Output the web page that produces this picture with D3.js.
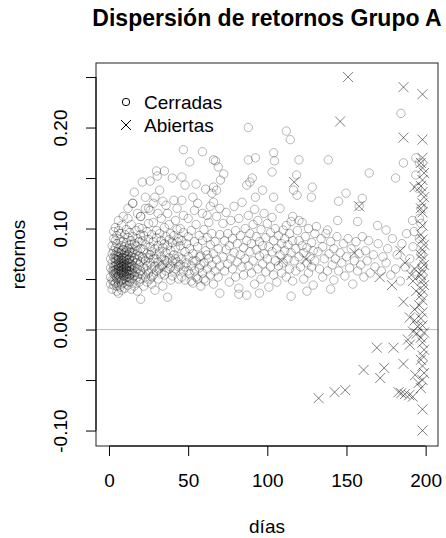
<!DOCTYPE html>
<html>
<head>
<meta charset="utf-8">
<script src="https://cdn.jsdelivr.net/npm/d3@7"></script>
<style>
  body { margin: 0; background: #fff; }
  svg { display: block; font-family: "Liberation Sans", Arial, sans-serif; }
</style>
</head>
<body>
<div id="chart"></div>
<script>
// Data -----------------------------------------------------------------------------------------------------------
const xTicks = [0, 50, 100, 150, 200];
const yTicks = [-0.10, -0.05, 0.00, 0.05, 0.10, 0.15, 0.20, 0.25];
const yTickLabels = ["-0.10", "", "0.00", "", "0.10", "", "0.20", ""];

// [dias, retorno] operaciones cerradas
const cerradas = [
  [1,0.052],[1,0.061],[1,0.070],[1,0.045],[2,0.058],[2,0.066],[2,0.049],[2,0.075],[2,0.083],[2,0.040],
  [3,0.055],[3,0.062],[3,0.071],[3,0.048],[3,0.090],[3,0.078],[3,0.044],[3,0.097],
  [4,0.053],[4,0.059],[4,0.067],[4,0.074],[4,0.081],[4,0.046],[4,0.101],[4,0.088],
  [5,0.050],[5,0.057],[5,0.064],[5,0.069],[5,0.077],[5,0.043],[5,0.085],[5,0.093],[5,0.038],
  [6,0.054],[6,0.060],[6,0.066],[6,0.072],[6,0.047],[6,0.080],[6,0.098],[6,0.036],[6,0.108],
  [7,0.051],[7,0.058],[7,0.063],[7,0.070],[7,0.076],[7,0.089],[7,0.042],[7,0.095],
  [8,0.049],[8,0.056],[8,0.062],[8,0.068],[8,0.074],[8,0.083],[8,0.045],[8,0.103],[8,0.039],
  [9,0.053],[9,0.059],[9,0.065],[9,0.071],[9,0.079],[9,0.087],[9,0.046],[9,0.112],
  [10,0.050],[10,0.057],[10,0.061],[10,0.067],[10,0.073],[10,0.082],[10,0.094],[10,0.041],
  [11,0.055],[11,0.060],[11,0.064],[11,0.069],[11,0.078],[11,0.086],[11,0.048],[11,0.099],
  [12,0.052],[12,0.058],[12,0.066],[12,0.074],[12,0.091],[12,0.044],[12,0.110],[12,0.120],
  [13,0.054],[13,0.062],[13,0.070],[13,0.077],[13,0.084],[13,0.047],[13,0.096],
  [14,0.050],[14,0.059],[14,0.065],[14,0.072],[14,0.081],[14,0.088],[14,0.040],[14,0.104],
  [15,0.056],[15,0.063],[15,0.068],[15,0.076],[15,0.092],[15,0.046],[15,0.125],
  [16,0.053],[16,0.061],[16,0.071],[16,0.079],[16,0.085],[16,0.136],[16,0.043],
  [17,0.057],[17,0.066],[17,0.074],[17,0.083],[17,0.098],[17,0.049],
  [18,0.052],[18,0.060],[18,0.069],[18,0.078],[18,0.090],[18,0.115],[18,0.038],
  [19,0.055],[19,0.064],[19,0.073],[19,0.087],[19,0.101],[19,0.047],
  [20,0.058],[20,0.067],[20,0.080],[20,0.094],[20,0.112],[20,0.030],[20,0.050],
  [3,0.058],[4,0.063],[4,0.056],[5,0.060],[5,0.073],[6,0.058],[6,0.063],[6,0.069],[7,0.055],[7,0.066],
  [7,0.061],[8,0.059],[8,0.065],[8,0.071],[9,0.056],[9,0.062],[9,0.068],[10,0.054],[10,0.064],[10,0.070],
  [11,0.058],[11,0.062],[11,0.073],[12,0.055],[12,0.063],[12,0.069],[13,0.058],[13,0.066],[14,0.056],
  [14,0.062],[5,0.052],[7,0.048],[9,0.050],[11,0.052],[13,0.051],[4,0.070],[6,0.076],[8,0.078],
  [10,0.076],[12,0.080],[14,0.076],
  [21,0.146],[26,0.147],[23,0.131],[29,0.131],[36,0.123],[41,0.128],[46,0.128],[53,0.131],[15,0.125],
  [23,0.120],[20,0.112],[25,0.105],[33,0.110],[42,0.108],[47,0.113],[54,0.118],[59,0.115],[64,0.122],
  [30,0.157],[35,0.157],[30.5,0.152],[40,0.150],[46,0.151],[48,0.143],[55,0.144],[61,0.139],[66,0.141],
  [47,0.178],[59,0.176],[51,0.166],[66,0.168],
  [21,0.055],[21,0.072],[21,0.088],[21,0.100],[22,0.043],[22,0.061],[22,0.079],[22,0.093],[23,0.052],
  [23,0.068],[23,0.084],[24,0.047],[24,0.063],[24,0.075],[24,0.097],[25,0.056],[25,0.071],[25,0.089],
  [26,0.050],[26,0.066],[26,0.082],[26,0.118],[27,0.060],[27,0.077],[27,0.094],[27,0.045],[28,0.054],
  [28,0.070],[28,0.087],[28,0.106],[29,0.063],[29,0.080],[29,0.039],[30,0.058],[30,0.074],[30,0.091],
  [30,0.098],[31,0.067],[31,0.083],[31,0.050],[31,0.115],[32,0.061],[32,0.077],[32,0.095],[33,0.055],
  [33,0.072],[33,0.088],[34,0.064],[34,0.081],[34,0.043],[34,0.127],[35,0.069],[35,0.085],[35,0.101],
  [36,0.058],[36,0.076],[36,0.092],[37,0.032],[37,0.066],[37,0.083],[38,0.071],[38,0.089],[38,0.104],
  [39,0.062],[39,0.078],[39,0.095],[40,0.053],[40,0.068],[40,0.086],[41,0.074],[41,0.093],[42,0.060],
  [42,0.081],[43,0.067],[43,0.087],[43,0.099],[44,0.072],[44,0.090],[44,0.050],[45,0.064],[45,0.083],
  [45,0.100],
  [22,0.070],[24,0.058],[26,0.074],[27,0.052],[29,0.070],[31,0.060],[33,0.063],[35,0.054],[36,0.068],
  [38,0.060],[39,0.049],[41,0.058],[42,0.070],[44,0.062],[46,0.052],[48,0.062],[50,0.058],[52,0.048],
  [53,0.068],[55,0.052],[57,0.072],[58,0.064],[60,0.050],[62,0.074],[25,0.120],[28,0.125],[32,0.138],
  [37,0.115],[43,0.120],[50,0.110],[56,0.125],[62,0.113],
  [46,0.070],[46,0.088],[47,0.058],[47,0.096],[48,0.077],[48,0.049],[49,0.066],[49,0.085],[50,0.092],
  [50,0.072],[51,0.055],[51,0.080],[52,0.063],[52,0.098],[53,0.046],[53,0.075],[54,0.087],[54,0.058],
  [55,0.068],[55,0.104],[56,0.050],[56,0.082],[57,0.061],[57,0.093],[58,0.073],[58,0.043],[59,0.056],
  [59,0.088],[60,0.066],[60,0.099],[61,0.078],[61,0.048],[62,0.060],[62,0.091],[63,0.070],[63,0.106],
  [64,0.054],[64,0.084],[65,0.064],[65,0.095],[66,0.075],[66,0.045],[67,0.058],[67,0.087],[68,0.069],
  [68,0.112],[69,0.080],[69,0.052],[70,0.036],[70,0.063],[70,0.094],[67.3,0.167],[69,0.161],
  [72.5,0.154],[70.4,0.148],[65,0.135],[68,0.138],[66,0.126],[70,0.120],
  [88,0.200],[112,0.1965],[114.5,0.188],[92.5,0.170],[104,0.175],[104.5,0.167],[120,0.168],[88,0.168],
  [103,0.156],[118.5,0.153],[90.5,0.150],[89,0.146],[87,0.143],[116.6,0.138],[118.8,0.133],[128.4,0.141],
  [127.8,0.131],[92.5,0.131],[104,0.131],[97,0.138],[120,0.108],[116,0.112],[110,0.0985],[131,0.102],
  [72,0.072],[72,0.105],[73,0.088],[73,0.058],[74,0.116],[74,0.079],[75,0.065],[75,0.095],[76,0.047],
  [76,0.083],[77,0.108],[77,0.070],[78,0.090],[78,0.060],[79,0.122],[79,0.076],[80,0.052],[80,0.098],
  [81,0.085],[81,0.067],[82,0.110],[82,0.041],[83,0.074],[83,0.093],[84,0.062],[84,0.126],[85,0.081],
  [85,0.054],[86,0.100],[86,0.070],[87,0.034],[87,0.088],[88,0.063],[88,0.113],[89,0.077],[89,0.095],
  [90,0.056],[90,0.085],[91,0.104],[91,0.068],[92,0.119],[92,0.045],[93,0.079],[93,0.092],[94,0.060],
  [94,0.108],[95,0.073],[95,0.087],[96,0.050],[96,0.099],[97,0.083],[97,0.065],[98,0.115],[98,0.075],
  [99,0.057],[99,0.091],[100,0.070],[100,0.105],[101,0.082],[101,0.042],[102,0.096],[102,0.062],
  [103,0.077],[103,0.111],[104,0.054],[104,0.088],[105,0.068],[105,0.100],[106,0.080],[106,0.047],
  [107,0.093],[107,0.063],[108,0.074],[108,0.120],[109,0.085],[109,0.056],[110,0.066],[111,0.090],
  [111,0.078],[112,0.052],[112,0.103],[113,0.070],[113,0.084],[114,0.060],[114,0.095],[115,0.076],
  [115,0.107],[116,0.048],[116,0.088],[117,0.068],[118,0.080],[118,0.058],[119,0.098],[120,0.072],
  [120,0.088],[121,0.062],[122,0.083],[122,0.106],[123,0.050],[123,0.076],[124,0.092],[125,0.066],
  [125,0.081],[126,0.056],[126,0.100],[127,0.072],[128,0.086],[128,0.062],[129,0.044],[129,0.078],
  [130,0.095],[130,0.068],[95,0.036],[115,0.033],[140,0.040],[125,0.038],[82,0.035],
  [184.4,0.214],[138.5,0.168],[193.8,0.170],[186,0.165],[164.4,0.155],[181,0.150],[193.8,0.153],
  [149.7,0.135],[145,0.127],[160,0.130],[158,0.122],[144.4,0.108],[157,0.107],[169.6,0.103],
  [191.7,0.108],[138,0.0985],[175,0.0985],[192.7,0.097],
  [132,0.077],[133,0.060],[134,0.090],[135,0.052],[135,0.082],[136,0.070],[137,0.095],[138,0.058],
  [139,0.075],[140,0.087],[141,0.064],[142,0.049],[142,0.080],[143,0.070],[144,0.092],[145,0.058],
  [146,0.076],[147,0.066],[148,0.085],[149,0.053],[150,0.072],[151,0.090],[152,0.061],[153,0.080],
  [154,0.045],[155,0.068],[156,0.087],[157,0.058],[158,0.075],[159,0.064],[160,0.092],[161,0.052],
  [162,0.078],[163,0.068],[164,0.088],[165,0.056],[167,0.074],[168,0.062],[170,0.085],[172,0.058],
  [173,0.072],[175,0.066],[176,0.080],[178,0.054],[179,0.090],[181,0.060],[182,0.074],[184,0.048],
  [185,0.085],[187,0.062],[188,0.095],[190,0.070],[192,0.082],[194,0.057],[196,0.090],[197,0.120],
  [197,0.105],[196,0.165],[195,0.140],[197,0.075],[198,0.062],[197,0.050],[196,0.110]
];

// [dias, retorno] operaciones abiertas
const abiertas = [
  [151,0.250],[186,0.240],[198,0.233],[146,0.206],[186,0.190],[198,0.188],[117,0.146],[193,0.141],[158,0.122],
  [198,0.170],[197,0.165],[198,0.160],[199,0.155],[198,0.148],[197,0.142],[198,0.136],[199,0.131],
  [198,0.125],[197,0.120],[198,0.116],[198,0.103],[197,0.094],[198,0.089],[199,0.084],[198,0.079],
  [197,0.074],[198,0.069],[199,0.064],[198,0.059],[197,0.054],[198,0.049],[199,0.044],[198,0.039],
  [197,0.034],[198,0.029],[196,0.024],[198,0.017],[197,0.011],[198,0.004],[199,-0.003],[197,-0.008],
  [198,-0.013],[199,-0.020],[198,-0.026],[197,-0.030],[198,-0.036],[199,-0.043],[198,-0.050],
  [197,-0.058],[198,-0.079],[198,-0.100],
  [109,0.068],[124.5,0.0695],[155,0.076],[184,0.078],[187,0.066],[191,0.054],[171,0.052],[178.7,0.044],
  [186,0.0275],[190,0.012],[193,0.009],[194.4,-0.004],[188.8,-0.010],[169.2,-0.018],[179.7,-0.018],
  [190,-0.015],[160.8,-0.040],[173.8,-0.038],[186,-0.034],[171.3,-0.048],[193.4,-0.045],[195.5,-0.053],
  [132.4,-0.068],[142.5,-0.062],[149.2,-0.060],[182.9,-0.062],[184.6,-0.063],[186.9,-0.064],
  [189.6,-0.065],[191.9,-0.0665],
  [193,0.060],[192,0.048],[194,0.038],[193,0.020],[195,0.003],[192,-0.002]
];

const legendLabels = ["Cerradas", "Abiertas"];

// Canvas ---------------------------------------------------------------------------------------------------------
const canvasWidth = 446;
const canvasHeight = 538;

const plotLeft = 96;
const plotRight = 438;
const plotTop = 63;
const plotBottom = 446;

const svg = d3.select("#chart")
  .append("svg")
  .attr("width", canvasWidth)
  .attr("height", canvasHeight);

const xScale = d3.scaleLinear()
  .domain([-8.2, 207.8])
  .range([plotLeft, plotRight]);
const yScale = d3.scaleLinear()
  .domain([-0.1153, 0.2639])
  .range([plotBottom, plotTop]);

const labelFontSize = 19;
const tickLength = 10;

// Title
svg.append("text")
  .text("Dispersión de retornos Grupo A")
  .attr("x", (plotLeft + plotRight) / 2)
  .attr("y", 26)
  .style("text-anchor", "middle")
  .style("font-weight", "bold")
  .style("font-size", 23);

// Zero line
svg.append("line")
  .attr("x1", plotLeft)
  .attr("x2", plotRight)
  .attr("y1", yScale(0))
  .attr("y2", yScale(0))
  .style("stroke", "#bebebe")
  .style("stroke-width", 1);

// Points
const points = svg.append("g");

points.selectAll("circle")
  .data(cerradas)
  .join("circle")
  .attr("cx", d => xScale(d[0]))
  .attr("cy", d => yScale(d[1]))
  .attr("r", 4.2)
  .style("fill", "none")
  .style("stroke", "rgba(0,0,0,0.28)")
  .style("stroke-width", 1);

const crossSize = 5;
points.selectAll("path")
  .data(abiertas)
  .join("path")
  .attr("d", d => {
    const cx = xScale(d[0]);
    const cy = yScale(d[1]);
    return "M" + (cx - crossSize) + "," + (cy - crossSize) + "L" + (cx + crossSize) + "," + (cy + crossSize) +
      "M" + (cx - crossSize) + "," + (cy + crossSize) + "L" + (cx + crossSize) + "," + (cy - crossSize);
  })
  .style("fill", "none")
  .style("stroke", "rgba(0,0,0,0.5)")
  .style("stroke-width", 1);

// Box
svg.append("rect")
  .attr("x", plotLeft)
  .attr("y", plotTop)
  .attr("width", plotRight - plotLeft)
  .attr("height", plotBottom - plotTop)
  .style("fill", "none")
  .style("stroke", "#222")
  .style("stroke-width", 1);

// Axes
const xAxis = svg.append("g")
  .attr("transform", "translate(0," + plotBottom + ")")
  .call(d3.axisBottom(xScale).tickValues(xTicks).tickSize(tickLength).tickSizeOuter(0).tickPadding(18));
xAxis.select(".domain")
  .attr("d", "M" + xScale(xTicks[0]) + ",0H" + xScale(xTicks[xTicks.length - 1]));
xAxis.selectAll("text")
  .style("font-family", "Liberation Sans, Arial, sans-serif")
  .style("font-size", labelFontSize)
  .style("fill", "#000");

const yAxis = svg.append("g")
  .attr("transform", "translate(" + plotLeft + ",0)")
  .call(d3.axisLeft(yScale).tickValues(yTicks).tickSize(tickLength).tickSizeOuter(0)
    .tickFormat((d, i) => yTickLabels[i]));
yAxis.select(".domain")
  .attr("d", "M0," + yScale(yTicks[0]) + "V" + yScale(yTicks[yTicks.length - 1]));
yAxis.selectAll("text")
  .attr("x", null)
  .attr("dy", null)
  .attr("transform", "translate(-29,0) rotate(-90)")
  .style("text-anchor", "middle")
  .style("font-family", "Liberation Sans, Arial, sans-serif")
  .style("font-size", labelFontSize)
  .style("fill", "#000");

// Axis titles
svg.append("text")
  .text("días")
  .attr("x", (plotLeft + plotRight) / 2)
  .attr("y", 533)
  .style("text-anchor", "middle")
  .style("font-size", labelFontSize);

svg.append("text")
  .text("retornos")
  .attr("transform", "translate(25," + (plotTop + plotBottom) / 2 + ") rotate(-90)")
  .style("text-anchor", "middle")
  .style("font-size", labelFontSize);

// Legend
const legendGroup = svg.append("g")
  .attr("transform", "translate(126,102)");

legendGroup.append("circle")
  .attr("cx", 0)
  .attr("cy", 0)
  .attr("r", 3.7)
  .style("fill", "none")
  .style("stroke", "#000")
  .style("stroke-width", 1);

legendGroup.append("path")
  .attr("d", "M-5,18L5,28M-5,28L5,18")
  .style("stroke", "#000")
  .style("stroke-width", 1);

legendGroup.selectAll("text")
  .data(legendLabels)
  .join("text")
  .text(d => d)
  .attr("x", 18)
  .attr("y", (d, i) => i * 23)
  .attr("dy", "0.35em")
  .style("font-size", labelFontSize);
</script>
</body>
</html>
